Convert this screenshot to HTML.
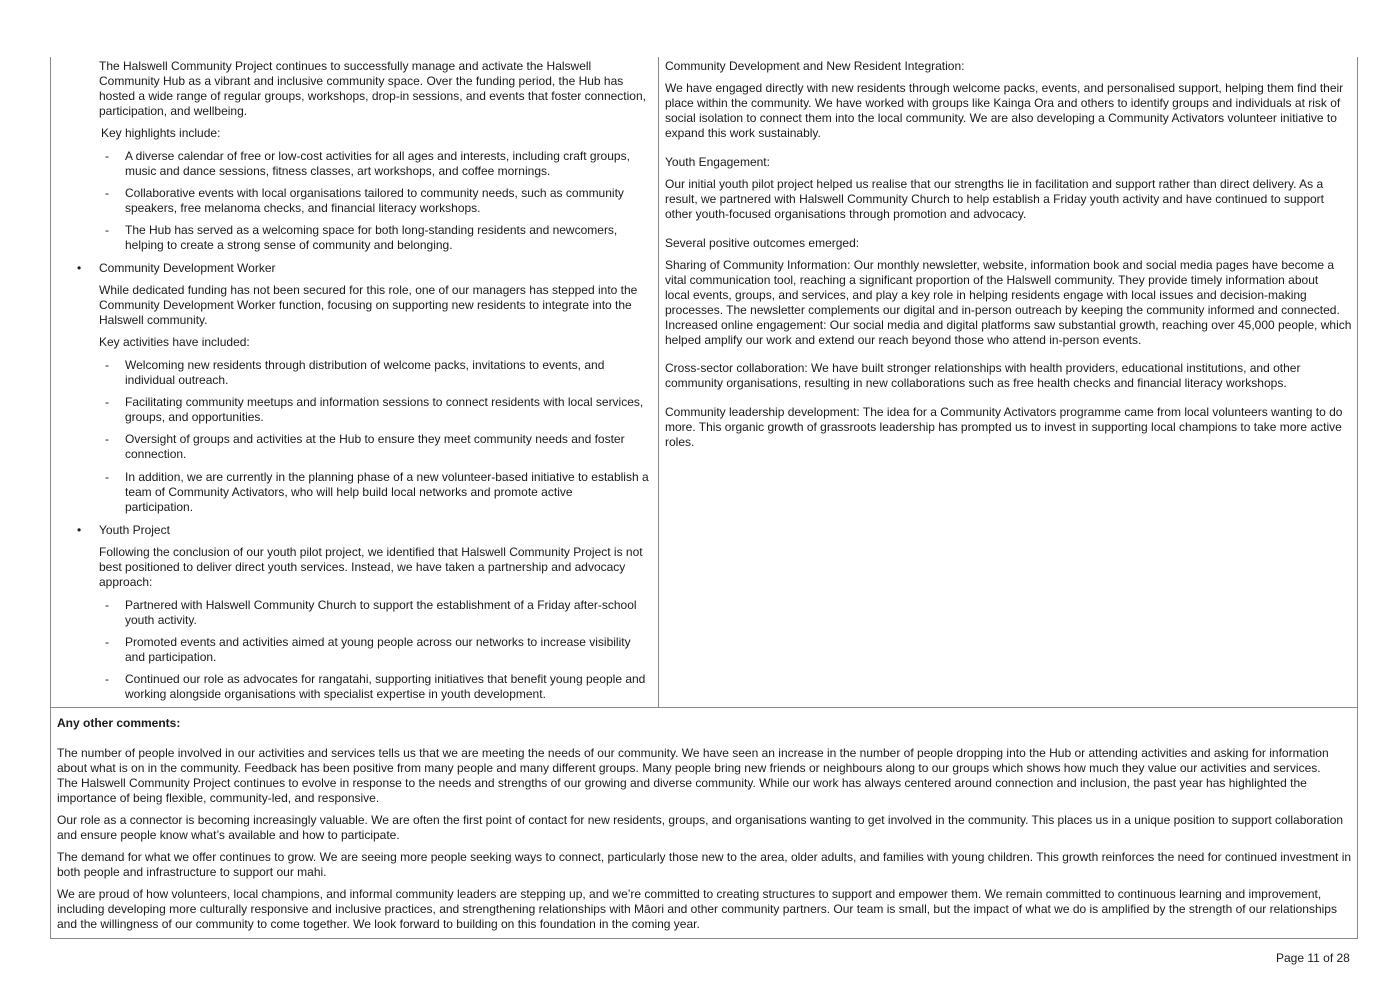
<!DOCTYPE html>
<html><head><meta charset="utf-8"><style>
body{margin:0;width:1398px;height:989px;background:#fff;position:relative;overflow:hidden;font-family:"Liberation Sans",sans-serif;color:#1a1a1a}
.l{position:absolute;white-space:nowrap;font-size:12px;line-height:14px;letter-spacing:0px;margin-top:1px}
.b{position:absolute;background:#8a8a8a}
</style></head><body>
<div class="b" style="left:50px;top:57px;width:1px;height:882px"></div>
<div class="b" style="left:1357px;top:57px;width:1px;height:882px"></div>
<div class="b" style="left:658px;top:57px;width:1px;height:650px"></div>
<div class="b" style="left:50px;top:707px;width:1308px;height:1px"></div>
<div class="b" style="left:50px;top:938px;width:1308px;height:1px"></div>

<div class="l" style="left:99px;top:58px">The Halswell Community Project continues to successfully manage and activate the Halswell</div>
<div class="l" style="left:99px;top:73px">Community Hub as a vibrant and inclusive community space. Over the funding period, the Hub has</div>
<div class="l" style="left:99px;top:88px">hosted a wide range of regular groups, workshops, drop-in sessions, and events that foster connection,</div>
<div class="l" style="left:99px;top:103px">participation, and wellbeing.</div>
<div class="l" style="left:101px;top:125px">Key highlights include:</div>
<div class="l" style="left:105px;top:148px">-</div><div class="l" style="left:125px;top:148px">A diverse calendar of free or low-cost activities for all ages and interests, including craft groups,</div>
<div class="l" style="left:125px;top:163px">music and dance sessions, fitness classes, art workshops, and coffee mornings.</div>
<div class="l" style="left:105px;top:185px">-</div><div class="l" style="left:125px;top:185px">Collaborative events with local organisations tailored to community needs, such as community</div>
<div class="l" style="left:125px;top:200px">speakers, free melanoma checks, and financial literacy workshops.</div>
<div class="l" style="left:105px;top:222px">-</div><div class="l" style="left:125px;top:222px">The Hub has served as a welcoming space for both long-standing residents and newcomers,</div>
<div class="l" style="left:125px;top:237px">helping to create a strong sense of community and belonging.</div>
<div class="l" style="left:77px;top:260px">•</div><div class="l" style="left:99px;top:260px">Community Development Worker</div>
<div class="l" style="left:99px;top:282px">While dedicated funding has not been secured for this role, one of our managers has stepped into the</div>
<div class="l" style="left:99px;top:297px">Community Development Worker function, focusing on supporting new residents to integrate into the</div>
<div class="l" style="left:99px;top:312px">Halswell community.</div>
<div class="l" style="left:99px;top:334px">Key activities have included:</div>
<div class="l" style="left:105px;top:357px">-</div><div class="l" style="left:125px;top:357px">Welcoming new residents through distribution of welcome packs, invitations to events, and</div>
<div class="l" style="left:125px;top:372px">individual outreach.</div>
<div class="l" style="left:105px;top:394px">-</div><div class="l" style="left:125px;top:394px">Facilitating community meetups and information sessions to connect residents with local services,</div>
<div class="l" style="left:125px;top:409px">groups, and opportunities.</div>
<div class="l" style="left:105px;top:431px">-</div><div class="l" style="left:125px;top:431px">Oversight of groups and activities at the Hub to ensure they meet community needs and foster</div>
<div class="l" style="left:125px;top:446px">connection.</div>
<div class="l" style="left:105px;top:469px">-</div><div class="l" style="left:125px;top:469px">In addition, we are currently in the planning phase of a new volunteer-based initiative to establish a</div>
<div class="l" style="left:125px;top:484px">team of Community Activators, who will help build local networks and promote active</div>
<div class="l" style="left:125px;top:499px">participation.</div>
<div class="l" style="left:77px;top:522px">•</div><div class="l" style="left:99px;top:522px">Youth Project</div>
<div class="l" style="left:99px;top:544px">Following the conclusion of our youth pilot project, we identified that Halswell Community Project is not</div>
<div class="l" style="left:99px;top:559px">best positioned to deliver direct youth services. Instead, we have taken a partnership and advocacy</div>
<div class="l" style="left:99px;top:574px">approach:</div>
<div class="l" style="left:105px;top:597px">-</div><div class="l" style="left:125px;top:597px">Partnered with Halswell Community Church to support the establishment of a Friday after-school</div>
<div class="l" style="left:125px;top:612px">youth activity.</div>
<div class="l" style="left:105px;top:634px">-</div><div class="l" style="left:125px;top:634px">Promoted events and activities aimed at young people across our networks to increase visibility</div>
<div class="l" style="left:125px;top:649px">and participation.</div>
<div class="l" style="left:105px;top:671px">-</div><div class="l" style="left:125px;top:671px">Continued our role as advocates for rangatahi, supporting initiatives that benefit young people and</div>
<div class="l" style="left:125px;top:686px">working alongside organisations with specialist expertise in youth development.</div>

<div class="l" style="left:665px;top:58px">Community Development and New Resident Integration:</div>
<div class="l" style="left:665px;top:80px">We have engaged directly with new residents through welcome packs, events, and personalised support, helping them find their</div>
<div class="l" style="left:665px;top:95px">place within the community. We have worked with groups like Kainga Ora and others to identify groups and individuals at risk of</div>
<div class="l" style="left:665px;top:110px">social isolation to connect them into the local community. We are also developing a Community Activators volunteer initiative to</div>
<div class="l" style="left:665px;top:125px">expand this work sustainably.</div>
<div class="l" style="left:665px;top:154px">Youth Engagement:</div>
<div class="l" style="left:665px;top:176px">Our initial youth pilot project helped us realise that our strengths lie in facilitation and support rather than direct delivery. As a</div>
<div class="l" style="left:665px;top:191px">result, we partnered with Halswell Community Church to help establish a Friday youth activity and have continued to support</div>
<div class="l" style="left:665px;top:206px">other youth-focused organisations through promotion and advocacy.</div>
<div class="l" style="left:665px;top:235px">Several positive outcomes emerged:</div>
<div class="l" style="left:665px;top:257px">Sharing of Community Information: Our monthly newsletter, website, information book and social media pages have become a</div>
<div class="l" style="left:665px;top:272px">vital communication tool, reaching a significant proportion of the Halswell community. They provide timely information about</div>
<div class="l" style="left:665px;top:287px">local events, groups, and services, and play a key role in helping residents engage with local issues and decision-making</div>
<div class="l" style="left:665px;top:302px">processes. The newsletter complements our digital and in-person outreach by keeping the community informed and connected.</div>
<div class="l" style="left:665px;top:317px">Increased online engagement: Our social media and digital platforms saw substantial growth, reaching over 45,000 people, which</div>
<div class="l" style="left:665px;top:332px">helped amplify our work and extend our reach beyond those who attend in-person events.</div>
<div class="l" style="left:665px;top:360px">Cross-sector collaboration: We have built stronger relationships with health providers, educational institutions, and other</div>
<div class="l" style="left:665px;top:375px">community organisations, resulting in new collaborations such as free health checks and financial literacy workshops.</div>
<div class="l" style="left:665px;top:404px">Community leadership development: The idea for a Community Activators programme came from local volunteers wanting to do</div>
<div class="l" style="left:665px;top:419px">more. This organic growth of grassroots leadership has prompted us to invest in supporting local champions to take more active</div>
<div class="l" style="left:665px;top:434px">roles.</div>

<div class="l" style="left:57px;top:715px;font-weight:bold">Any other comments:</div>
<div class="l" style="left:57px;top:745px">The number of people involved in our activities and services tells us that we are meeting the needs of our community. We have seen an increase in the number of people dropping into the Hub or attending activities and asking for information</div>
<div class="l" style="left:57px;top:760px">about what is on in the community. Feedback has been positive from many people and many different groups. Many people bring new friends or neighbours along to our groups which shows how much they value our activities and services.</div>
<div class="l" style="left:57px;top:775px">The Halswell Community Project continues to evolve in response to the needs and strengths of our growing and diverse community. While our work has always centered around connection and inclusion, the past year has highlighted the</div>
<div class="l" style="left:57px;top:790px">importance of being flexible, community-led, and responsive.</div>
<div class="l" style="left:57px;top:812px">Our role as a connector is becoming increasingly valuable. We are often the first point of contact for new residents, groups, and organisations wanting to get involved in the community. This places us in a unique position to support collaboration</div>
<div class="l" style="left:57px;top:827px">and ensure people know what’s available and how to participate.</div>
<div class="l" style="left:57px;top:849px">The demand for what we offer continues to grow. We are seeing more people seeking ways to connect, particularly those new to the area, older adults, and families with young children. This growth reinforces the need for continued investment in</div>
<div class="l" style="left:57px;top:864px">both people and infrastructure to support our mahi.</div>
<div class="l" style="left:57px;top:886px">We are proud of how volunteers, local champions, and informal community leaders are stepping up, and we’re committed to creating structures to support and empower them. We remain committed to continuous learning and improvement,</div>
<div class="l" style="left:57px;top:901px">including developing more culturally responsive and inclusive practices, and strengthening relationships with Māori and other community partners. Our team is small, but the impact of what we do is amplified by the strength of our relationships</div>
<div class="l" style="left:57px;top:916px">and the willingness of our community to come together. We look forward to building on this foundation in the coming year.</div>

<div class="l" style="left:1276px;top:950px;font-size:12px">Page 11 of 28</div>
</body></html>
